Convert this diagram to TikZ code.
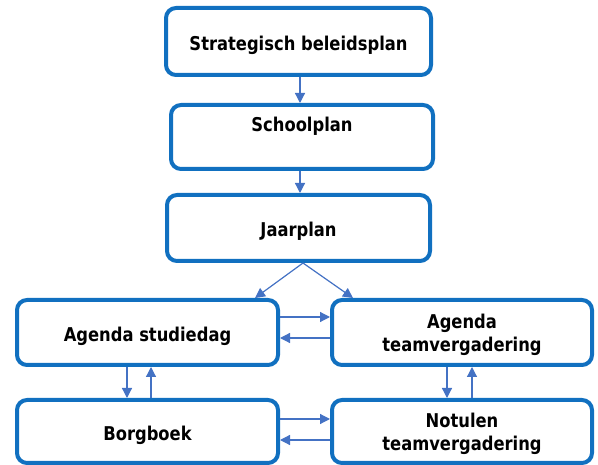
\documentclass[tikz,border=0pt]{standalone}
\usepackage{fontspec}
\setmainfont{DejaVu Sans}
\newfontfamily\boxfont[FakeStretch=0.86]{DejaVu Sans Bold}
\usetikzlibrary{arrows.meta}
\definecolor{boxblue}{RGB}{17,112,192}
\definecolor{arrblue}{RGB}{68,114,196}
\newcommand\lowline[1]{\raisebox{-2.5pt}[\height][\depth]{#1}}
\begin{document}
\begin{tikzpicture}[x=1pt,y=-1pt,
  box/.style={draw=boxblue, line width=4pt, rounded corners=10pt, fill=white,
    align=center, inner sep=2pt, text height=22pt, text depth=4.5pt,
    font=\boxfont\fontsize{19}{23.5}\selectfont, text=black},
  twoline/.style={text height=, text depth=},
  arr/.style={draw=arrblue, line width=1.2pt, -{Triangle[length=10pt,width=10pt]}}]
\useasboundingbox (0,0) rectangle (598,465);
\node[box, minimum width=265pt, minimum height=67pt] (b1) at (298.5,41.5) {Strategisch beleidsplan};
\node[box, minimum width=262pt, minimum height=64pt, text height=14pt, text depth=24pt] (b2) at (302,137) {Schoolplan};
\node[box, minimum width=263pt, minimum height=66pt] (b3) at (298.5,228) {Jaarplan};
\node[box, minimum width=261pt, minimum height=65pt] (ls) at (147.5,332.5) {Agenda studiedag};
\node[box, twoline, minimum width=260pt, minimum height=65pt] (at) at (462,332.5) {\lowline{Agenda}\\\lowline{teamvergadering}};
\node[box, minimum width=261pt, minimum height=63pt] (bb) at (147.5,431.5) {Borgboek};
\node[box, twoline, minimum width=260pt, minimum height=63pt] (nt) at (462,431.5) {\lowline{Notulen}\\\lowline{teamvergadering}};
\draw[arr] ([xshift=1.5pt]b1.south) -- ([xshift=-2pt]b2.north);
\draw[arr] ([xshift=-2pt]b2.south) -- ([xshift=1.5pt]b3.north);
\draw[arr] ([xshift=4.5pt]b3.south) -- ([xshift=107.5pt]ls.north);
\draw[arr] ([xshift=4.5pt]b3.south) -- ([xshift=-109pt]at.north);
\draw[arr] ([yshift=15.5pt]ls.east) -- ([yshift=15.5pt]at.west);
\draw[arr] ([yshift=-5.5pt]at.west) -- ([yshift=-5.5pt]ls.east);
\draw[arr] ([yshift=12.5pt]bb.east) -- ([yshift=12.5pt]nt.west);
\draw[arr] ([yshift=-8.5pt]nt.west) -- ([yshift=-8.5pt]bb.east);
\draw[arr] ([xshift=-20.5pt]ls.south) -- ([xshift=-20.5pt]bb.north);
\draw[arr] ([xshift=3.5pt]bb.north) -- ([xshift=3.5pt]ls.south);
\draw[arr] ([xshift=-15pt]at.south) -- ([xshift=-15pt]nt.north);
\draw[arr] ([xshift=10pt]nt.north) -- ([xshift=10pt]at.south);
\end{tikzpicture}
\end{document}
